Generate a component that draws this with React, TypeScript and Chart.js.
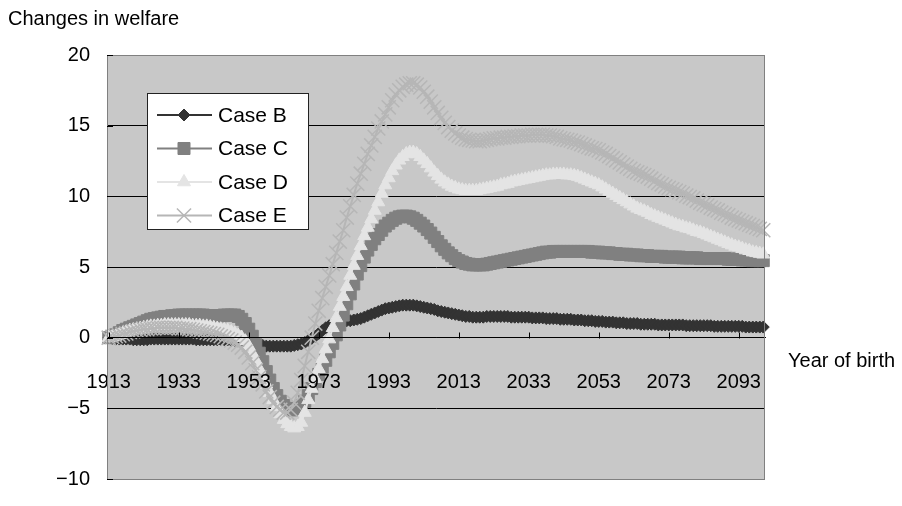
import { useEffect, useRef } from 'react';
import { Chart, registerables } from 'chart.js';
import { drawPoint } from 'chart.js/helpers';

Chart.register(...registerables);

const FIRST_YEAR = 1913;
const LAST_YEAR = 2100;
const YEARS: string[] = [];
for (let y = FIRST_YEAR; y <= LAST_YEAR; y++) YEARS.push(String(y));

const TICK_YEARS = [1913, 1933, 1953, 1973, 1993, 2013, 2033, 2053, 2073, 2093];
const Y_TICKS = [-10, -5, 0, 5, 10, 15, 20];

const SERIES_NAMES = ['Case B', 'Case C', 'Case D', 'Case E'];

// 1913 ... 2100, one value per year of birth
const CASE_B = [
  0, -0.05, -0.1, -0.1, -0.1, -0.1, -0.1, -0.15, -0.15, -0.15,
  -0.15, -0.15, -0.1, -0.1, -0.1, -0.1, -0.1, -0.1, -0.1, -0.1,
  -0.1, -0.1, -0.1, -0.1, -0.1, -0.15, -0.15, -0.15, -0.15, -0.15,
  -0.15, -0.15, -0.15, -0.15, -0.15, -0.2, -0.2, -0.2, -0.25, -0.3,
  -0.35, -0.4, -0.45, -0.5, -0.55, -0.6, -0.6, -0.6, -0.6, -0.6,
  -0.6, -0.6, -0.6, -0.55, -0.5, -0.45, -0.35, -0.2, -0.05, 0.1,
  0.3, 0.5, 0.7, 0.85, 0.95, 1.0, 1.1, 1.15, 1.2, 1.2,
  1.25, 1.3, 1.35, 1.45, 1.55, 1.65, 1.75, 1.85, 1.95, 2.05,
  2.1, 2.15, 2.2, 2.25, 2.3, 2.3, 2.3, 2.3, 2.25, 2.2,
  2.15, 2.1, 2.05, 2.0, 1.9, 1.85, 1.8, 1.75, 1.7, 1.65,
  1.6, 1.55, 1.5, 1.5, 1.45, 1.45, 1.45, 1.45, 1.5, 1.5,
  1.5, 1.5, 1.5, 1.5, 1.5, 1.45, 1.45, 1.45, 1.45, 1.45,
  1.45, 1.4, 1.4, 1.4, 1.4, 1.35, 1.35, 1.35, 1.35, 1.3,
  1.3, 1.3, 1.3, 1.25, 1.25, 1.25, 1.2, 1.2, 1.2, 1.15,
  1.15, 1.15, 1.1, 1.1, 1.1, 1.05, 1.05, 1.05, 1.0, 1.0,
  1.0, 1.0, 0.95, 0.95, 0.95, 0.95, 0.95, 0.9, 0.9, 0.9,
  0.9, 0.9, 0.9, 0.9, 0.9, 0.85, 0.85, 0.85, 0.85, 0.85,
  0.85, 0.85, 0.85, 0.8, 0.8, 0.8, 0.8, 0.8, 0.8, 0.8,
  0.8, 0.8, 0.75, 0.75, 0.75, 0.75, 0.75, 0.75,
];

const CASE_C = [
  0, 0.1, 0.2, 0.35, 0.5, 0.6, 0.7, 0.8, 0.9, 1.0,
  1.1, 1.2, 1.3, 1.35, 1.4, 1.45, 1.5, 1.5, 1.55, 1.55,
  1.6, 1.6, 1.6, 1.6, 1.6, 1.6, 1.6, 1.6, 1.55, 1.55,
  1.55, 1.55, 1.55, 1.6, 1.6, 1.6, 1.6, 1.5, 1.3, 1.0,
  0.6, 0.1, -0.5, -1.1, -1.7, -2.4, -3.0, -3.6, -4.1, -4.5,
  -4.8, -5.0, -5.1, -5.1, -5.0, -4.8, -4.5, -4.1, -3.6, -3.1,
  -2.6, -2.1, -1.6, -1.0, -0.4, 0.2, 0.9, 1.6, 2.4, 3.1,
  3.8, 4.5, 5.1, 5.7, 6.2, 6.6, 7.0, 7.3, 7.6, 7.9,
  8.1, 8.3, 8.45, 8.55, 8.6, 8.6, 8.55, 8.45, 8.3, 8.1,
  7.9, 7.65, 7.4, 7.1, 6.8, 6.5, 6.25, 6.0, 5.8, 5.6,
  5.45, 5.35, 5.25, 5.2, 5.15, 5.15, 5.15, 5.15, 5.2, 5.25,
  5.3, 5.35, 5.4, 5.45, 5.5, 5.55, 5.6, 5.65, 5.7, 5.75,
  5.8, 5.85, 5.9, 5.95, 6.0, 6.05, 6.05, 6.1, 6.1, 6.1,
  6.1, 6.1, 6.1, 6.1, 6.1, 6.1, 6.1, 6.1, 6.05, 6.05,
  6.05, 6.0, 6.0, 6.0, 5.95, 5.95, 5.9, 5.9, 5.9, 5.85,
  5.85, 5.85, 5.8, 5.8, 5.8, 5.75, 5.75, 5.75, 5.75, 5.7,
  5.7, 5.7, 5.7, 5.7, 5.65, 5.65, 5.65, 5.65, 5.65, 5.6,
  5.6, 5.6, 5.6, 5.6, 5.6, 5.6, 5.6, 5.55, 5.55, 5.55,
  5.55, 5.5, 5.5, 5.5, 5.45, 5.45, 5.45, 5.45,
];

const CASE_D = [
  0, 0.05, 0.1, 0.2, 0.3, 0.4, 0.5, 0.55, 0.6, 0.65,
  0.7, 0.75, 0.8, 0.8, 0.85, 0.85, 0.9, 0.9, 0.9, 0.9,
  0.9, 0.9, 0.9, 0.9, 0.85, 0.85, 0.85, 0.8, 0.8, 0.75,
  0.7, 0.65, 0.6, 0.55, 0.5, 0.4, 0.3, 0.15, 0.0, -0.25,
  -0.6, -1.1, -1.6, -2.2, -2.8, -3.3, -3.9, -4.4, -4.9, -5.4,
  -5.8, -6.1, -6.3, -6.4, -6.3, -6.0, -5.3, -4.4, -3.6, -2.9,
  -2.2, -1.5, -0.8, -0.1, 0.7, 1.4, 2.2, 2.9, 3.6, 4.4,
  5.1, 5.8, 6.5, 7.2, 7.8, 8.4, 9.0, 9.6, 10.2, 10.8,
  11.3, 11.8, 12.2, 12.55, 12.8, 13.0, 13.1, 13.1, 13.0, 12.8,
  12.55, 12.3, 12.0, 11.7, 11.45, 11.2, 11.0, 10.85, 10.7, 10.6,
  10.5, 10.45, 10.4, 10.4, 10.4, 10.4, 10.45, 10.5, 10.55, 10.6,
  10.65, 10.7, 10.8, 10.85, 10.9, 11.0, 11.05, 11.1, 11.15, 11.2,
  11.25, 11.3, 11.35, 11.4, 11.45, 11.5, 11.5, 11.55, 11.55, 11.55,
  11.55, 11.5, 11.5, 11.45, 11.4, 11.3, 11.2, 11.1, 11.0, 10.9,
  10.8, 10.65, 10.5, 10.35, 10.2, 10.05, 9.9, 9.75, 9.6, 9.45,
  9.3, 9.15, 9.05, 8.95, 8.85, 8.7, 8.6, 8.5, 8.4, 8.3,
  8.2, 8.1, 8.0, 7.9, 7.85, 7.75, 7.7, 7.6, 7.5, 7.45,
  7.35, 7.25, 7.15, 7.05, 6.95, 6.85, 6.75, 6.65, 6.55, 6.45,
  6.4, 6.3, 6.2, 6.15, 6.05, 6.0, 5.95, 5.9,
];

const CASE_E = [
  0, 0.05, 0.1, 0.15, 0.25, 0.3, 0.4, 0.45, 0.5, 0.55,
  0.6, 0.6, 0.65, 0.65, 0.7, 0.7, 0.7, 0.7, 0.7, 0.7,
  0.65, 0.65, 0.6, 0.6, 0.55, 0.5, 0.45, 0.4, 0.35, 0.3,
  0.25, 0.2, 0.1, 0.0, -0.1, -0.2, -0.35, -0.5, -0.7, -1.0,
  -1.4, -1.8, -2.3, -2.8, -3.3, -3.8, -4.2, -4.6, -4.9, -5.1,
  -5.3, -5.3, -5.1, -4.6, -3.9, -3.0, -2.0, -1.0, 0.0, 1.0,
  1.9, 2.8, 3.6, 4.4, 5.2, 6.0, 6.8, 7.6, 8.5, 9.3,
  10.1, 10.9, 11.6, 12.3, 13.0, 13.6, 14.2, 14.8, 15.3, 15.8,
  16.3, 16.8, 17.2, 17.5, 17.75, 17.9, 18.0, 18.0, 17.9, 17.7,
  17.4, 17.05, 16.7, 16.3, 15.9, 15.55, 15.2, 14.9, 14.65, 14.45,
  14.3, 14.15, 14.05, 14.0, 13.95, 13.9, 13.9, 13.95, 14.0, 14.05,
  14.1, 14.1, 14.15, 14.15, 14.2, 14.2, 14.25, 14.25, 14.3, 14.3,
  14.3, 14.35, 14.35, 14.35, 14.35, 14.3, 14.3, 14.25, 14.2, 14.1,
  14.05, 14.0, 13.95, 13.85, 13.8, 13.7, 13.6, 13.5, 13.4, 13.35,
  13.25, 13.1, 13.0, 12.85, 12.7, 12.55, 12.4, 12.25, 12.1, 11.95,
  11.8, 11.7, 11.6, 11.5, 11.4, 11.25, 11.1, 10.95, 10.85, 10.7,
  10.6, 10.5, 10.4, 10.3, 10.2, 10.05, 9.95, 9.85, 9.7, 9.55,
  9.45, 9.35, 9.2, 9.1, 9.0, 8.85, 8.75, 8.65, 8.5, 8.4,
  8.3, 8.2, 8.1, 8.0, 7.9, 7.8, 7.7, 7.6,
];

const COLORS = ['#333333', '#808080', '#e4e4e4', '#b6b6b6'];
const POINT_STYLES = ['rectRot', 'rect', 'triangle', 'crossRot'];
const POINT_RADII = [6, 8.5, 7.5, 10];
const POINT_BORDER = [1, 1, 1, 1.5];

const FONT = '"Liberation Sans", Arial, sans-serif';

const decorPlugin = {
  id: 'decor',
  beforeDraw(chart: any) {
    const { ctx, chartArea: a } = chart;
    ctx.save();
    ctx.fillStyle = '#c8c8c8';
    ctx.fillRect(a.left, a.top, a.right - a.left, a.bottom - a.top);
    ctx.restore();
  },
  afterDraw(chart: any) {
    const { ctx, chartArea: a, scales } = chart;
    ctx.save();
    // plot border
    ctx.strokeStyle = '#808080';
    ctx.lineWidth = 1;
    ctx.strokeRect(Math.round(a.left) + 0.5, Math.round(a.top) + 0.5, Math.round(a.right - a.left) - 1, Math.round(a.bottom - a.top));
    // x ticks (inward, upward)
    const y0 = Math.round(scales.y.getPixelForValue(0)) + 0.5;
    ctx.strokeStyle = '#000';
    TICK_YEARS.forEach((yr) => {
      const x = Math.round(scales.x.getPixelForValue(YEARS.indexOf(String(yr)))) + 0.5;
      ctx.beginPath();
      ctx.moveTo(x, y0);
      ctx.lineTo(x, y0 - 6);
      ctx.stroke();
    });
    // y ticks (inward stubs)
    Y_TICKS.forEach((v) => {
      const y = Math.round(scales.y.getPixelForValue(v)) + 0.5;
      ctx.beginPath();
      ctx.moveTo(a.left, y);
      ctx.lineTo(a.left + 6, y);
      ctx.stroke();
    });
    // titles
    ctx.fillStyle = '#000';
    ctx.font = '20px ' + FONT;
    ctx.textAlign = 'left';
    ctx.textBaseline = 'alphabetic';
    ctx.fillText('Changes in welfare', 8, 25);
    ctx.fillText('Year of birth', 788, 367);
    // legend
    const lx = 147, ly = 93, lw = 161, lh = 136;
    ctx.fillStyle = '#ffffff';
    ctx.fillRect(lx, ly, lw, lh);
    ctx.strokeStyle = '#222';
    ctx.strokeRect(lx + 0.5, ly + 0.5, lw, lh);
    const rowY = [115, 148.5, 182, 215.5];
    SERIES_NAMES.forEach((name, i) => {
      const cy = rowY[i];
      ctx.strokeStyle = COLORS[i];
      ctx.lineWidth = 2;
      ctx.beginPath();
      ctx.moveTo(157, cy);
      ctx.lineTo(212, cy);
      ctx.stroke();
      ctx.fillStyle = COLORS[i];
      ctx.lineWidth = POINT_BORDER[i];
      drawPoint(ctx, { pointStyle: POINT_STYLES[i], radius: POINT_RADII[i], borderWidth: POINT_BORDER[i], rotation: 0 } as any, 184, cy);
      ctx.fillStyle = '#000';
      ctx.font = '21px ' + FONT;
      ctx.textBaseline = 'middle';
      ctx.fillText(name, 218, cy + 1);
    });
    ctx.restore();
  },
};

export default function App() {
  const canvasRef = useRef<HTMLCanvasElement | null>(null);

  useEffect(() => {
    document.body.style.margin = '0';
    const canvas = canvasRef.current;
    if (!canvas) return;
    const seriesData = [CASE_B, CASE_C, CASE_D, CASE_E];
    const chart = new Chart(canvas, {
      type: 'line',
      data: {
        labels: YEARS,
        datasets: SERIES_NAMES.map((name, i) => ({
          label: name,
          data: seriesData[i],
          borderColor: COLORS[i],
          backgroundColor: COLORS[i],
          borderWidth: 2,
          pointStyle: POINT_STYLES[i] as any,
          pointRadius: POINT_RADII[i],
          pointBorderWidth: POINT_BORDER[i],
          pointBorderColor: COLORS[i],
          pointBackgroundColor: COLORS[i],
          tension: 0,
          clip: false as any,
          order: 3 - i,
        })),
      },
      options: {
        responsive: false,
        animation: false,
        devicePixelRatio: 1,
        events: [],
        layout: { padding: { left: 0, right: 137, top: 55, bottom: 11 } },
        plugins: {
          legend: { display: false },
          tooltip: { enabled: false },
          title: { display: false },
        },
        scales: {
          x: {
            type: 'category',
            offset: true,
            position: { y: 0 } as any,
            grid: { display: false, drawTicks: false },
            border: { display: true, color: '#000', width: 1, z: 1 } as any,
            ticks: {
              z: 1,
              autoSkip: false,
              maxRotation: 0,
              minRotation: 0,
              padding: 33,
              color: '#000',
              font: { family: FONT, size: 20 },
              callback: (_v: any, index: number) => {
                const lbl = YEARS[index];
                return TICK_YEARS.includes(Number(lbl)) ? lbl : null;
              },
            },
          },
          y: {
            type: 'linear',
            position: 'left',
            min: -10,
            max: 20,
            afterFit: (scale: any) => {
              scale.width = 107;
            },
            grid: {
              drawTicks: false,
              color: (ctx: any) => (ctx.tick && (ctx.tick.value === 20 || ctx.tick.value === -10) ? 'rgba(0,0,0,0)' : '#000'),
              lineWidth: 1,
            },
            border: { display: true, color: '#808080', width: 1 },
            ticks: {
              stepSize: 5,
              padding: 17,
              color: '#000',
              font: { family: FONT, size: 20, lineHeight: 1 },
              callback: (v: any) => (Number(v) < 0 ? '\u2212' + Math.abs(Number(v)) : String(v)),
            },
          },
        },
      },
      plugins: [decorPlugin],
    });
    return () => chart.destroy();
  }, []);

  return (
    <div style={{ position: 'relative', width: 902, height: 506, background: '#fff' }}>
      <canvas ref={canvasRef} width={902} height={506} />
    </div>
  );
}
